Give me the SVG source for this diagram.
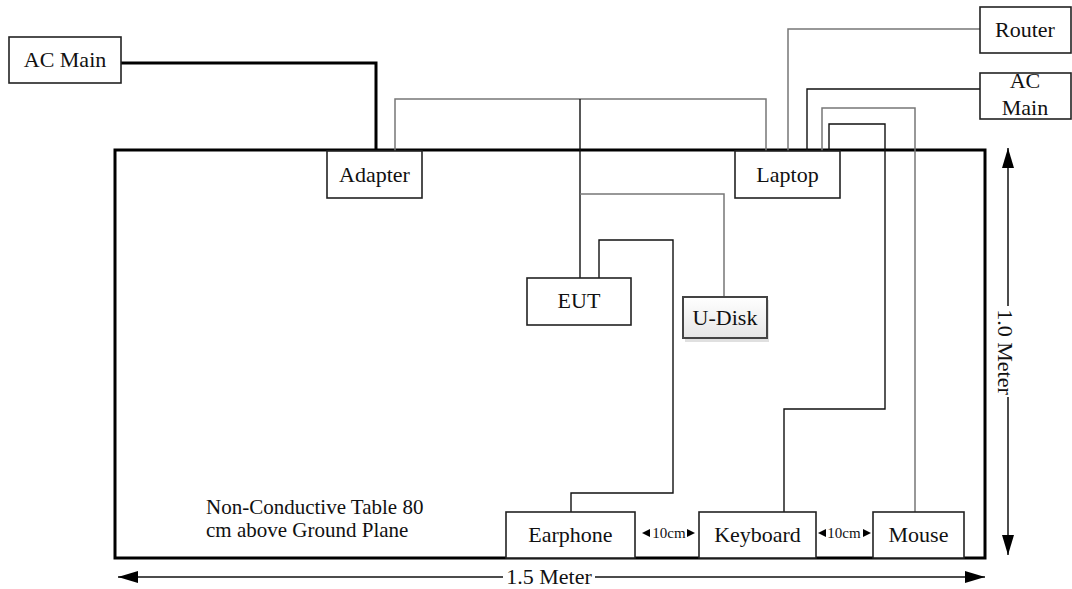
<svg xmlns="http://www.w3.org/2000/svg" width="1072" height="589" viewBox="0 0 1072 589">
<defs>
<style>
text{font-family:'Liberation Serif','Times New Roman','DejaVu Serif',serif;fill:#111}
.t{font-size:22px}
.n{font-size:21px}
.s{font-size:15px}
.box{fill:#fff;stroke:#222;stroke-width:1.6}
.w{fill:none;stroke:#111;stroke-width:1.4}
.g{fill:none;stroke:#777;stroke-width:1.5}
.thick{fill:none;stroke:#000;stroke-width:3}
.dim{fill:none;stroke:#111;stroke-width:1.5}
</style>
<linearGradient id="ug" x1="0" y1="0" x2="0" y2="1">
<stop offset="0" stop-color="#ffffff"/>
<stop offset="1" stop-color="#e6e6e6"/>
</linearGradient>
<marker id="ah" viewBox="0 0 20 12" refX="20" refY="6" markerWidth="20" markerHeight="12" markerUnits="userSpaceOnUse" orient="auto-start-reverse">
<path d="M0,0 L20,6 L0,12 Z" fill="#000"/>
</marker>
</defs>
<rect width="1072" height="589" fill="#fff"/>

<g id="table">
<rect x="115" y="150" width="870" height="408" fill="none" stroke="#000" stroke-width="3"/>
<text class="n" x="206" y="514" font-family="Liberation Serif, serif">Non-Conductive Table 80</text>
<text class="n" x="206" y="537" font-family="Liberation Serif, serif">cm above Ground Plane</text>
</g>

<g id="connectors">
<polyline class="thick" points="121,63 376,63 376,151"/>
<polyline class="g" points="395,151 395,99 766,99 766,151"/>
<line class="w" x1="580" y1="99" x2="580" y2="278"/>
<polyline class="g" points="580,194 724,194 724,297"/>
<polyline class="w" points="599,278 599,240 673,240 673,493 571,493 571,512"/>
<polyline class="g" points="788,151 788,29 980,29"/>
<polyline class="w" points="807,151 807,89 980,89"/>
<polyline class="g" points="822,151 822,108 915,108 915,512"/>
<polyline class="w" points="829,151 829,124 885,124 885,409 784,409 784,512"/>
</g>

<g id="dimensions">
<line class="dim" x1="118" y1="577" x2="503" y2="577" marker-start="url(#ah)"/>
<line class="dim" x1="595" y1="577" x2="985" y2="577" marker-end="url(#ah)"/>
<text class="t" x="549" y="584" text-anchor="middle">1.5 Meter</text>
<line class="dim" x1="1008" y1="148" x2="1008" y2="306" marker-start="url(#ah)"/>
<line class="dim" x1="1008" y1="397" x2="1008" y2="555" marker-end="url(#ah)"/>
<text class="t" x="0" y="0" text-anchor="middle" transform="translate(998,352) rotate(90)">1.0 Meter</text>
<path d="M642,533 L650,529 L650,537 Z M695,533 L687,529 L687,537 Z" fill="#000"/>
<text class="s" x="669" y="538" text-anchor="middle">10cm</text>
<path d="M818,533 L826,529 L826,537 Z M871,533 L863,529 L863,537 Z" fill="#000"/>
<text class="s" x="844" y="538" text-anchor="middle">10cm</text>
</g>

<g id="ac-main-left">
<rect class="box" x="9" y="37" width="112" height="46"/>
<text class="t" x="65" y="67" text-anchor="middle">AC Main</text>
</g>
<g id="router">
<rect class="box" x="980" y="7" width="91" height="46"/>
<text class="t" x="1025" y="37" text-anchor="middle">Router</text>
</g>
<g id="ac-main-right">
<rect class="box" x="980" y="73" width="91" height="46"/>
<text class="t" x="1025" y="88" text-anchor="middle">AC</text>
<text class="t" x="1025" y="115" text-anchor="middle">Main</text>
</g>
<g id="adapter">
<rect class="box" x="327" y="151" width="95" height="47"/>
<text class="t" x="374.5" y="182" text-anchor="middle">Adapter</text>
</g>
<g id="laptop">
<rect class="box" x="735" y="151" width="105" height="47"/>
<text class="t" x="787.5" y="182" text-anchor="middle">Laptop</text>
</g>
<g id="eut">
<rect class="box" x="527" y="278" width="104" height="47"/>
<text class="t" x="579" y="308" text-anchor="middle">EUT</text>
</g>
<g id="udisk">
<rect x="685" y="300" width="84" height="42" fill="#ccc" opacity="0.6"/>
<rect x="683" y="297" width="84" height="41" fill="url(#ug)" stroke="#444" stroke-width="2"/>
<text class="t" x="725" y="325" text-anchor="middle">U-Disk</text>
</g>
<g id="earphone">
<rect class="box" x="506" y="512" width="129" height="46"/>
<text class="t" x="570.5" y="542" text-anchor="middle">Earphone</text>
</g>
<g id="keyboard">
<rect class="box" x="699" y="512" width="117" height="46"/>
<text class="t" x="757.5" y="542" text-anchor="middle">Keyboard</text>
</g>
<g id="mouse">
<rect class="box" x="873" y="512" width="91" height="46"/>
<text class="t" x="918.5" y="542" text-anchor="middle">Mouse</text>
</g>
</svg>
